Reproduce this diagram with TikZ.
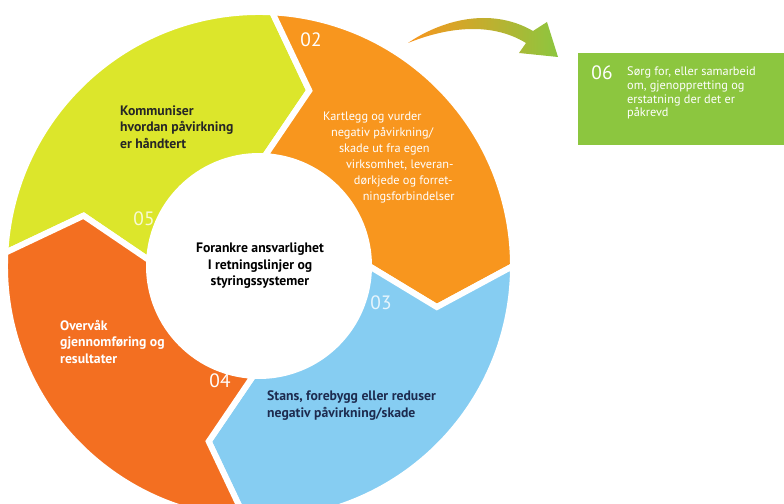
\documentclass[tikz,border=0pt]{standalone}
\usepackage{fontspec}
\setmainfont{PT Sans}
\usetikzlibrary{calc}
\definecolor{ringyellow}{HTML}{DCE62B}
\definecolor{ringorange}{HTML}{F8961E}
\definecolor{ringred}{HTML}{F36F21}
\definecolor{ringblue}{HTML}{86CDF2}
\definecolor{boxgreen}{HTML}{8CC63F}
\definecolor{darknavy}{HTML}{1D2B4F}
\def\outR{5.08cm}
\def\inR{2.2cm}
\def\midR{3.65cm}
\def\ringpart[#1](#2:#3){\draw[#1] (#2:\outR) arc[start angle=#2, end angle=#3, radius=\outR] -- ({#3-13}:\midR) -- (#3:\inR) arc[start angle=#3, end angle=#2, radius=\inR] -- ({#2-13}:\midR) -- cycle;}

\begin{document}
\begin{tikzpicture}[
    steplabel/.style={text=white, font=\fontsize{11}{13}\selectfont},
    boldtext/.style={font=\fontsize{7.8}{9.4}\selectfont\bfseries, align=left, anchor=west},
    thintext/.style={text=white, font=\fontsize{7}{9}\selectfont, align=left, anchor=west}]
		%%%%% START %%%%%
		\useasboundingbox (0, 0) rectangle (15.68, 10.08);
		\clip (0, 0) rectangle (15.68, 10.08);
		
		\begin{scope}[shift={(5.18, 4.76)}]
			\ringpart[fill=ringyellow, draw=white, line width=3.4pt](177:87);
			\ringpart[fill=ringorange, draw=white, line width=3.4pt](87:0);
			\ringpart[fill=ringblue, draw=white, line width=3.4pt](0:-93);
			\ringpart[fill=ringred, draw=white, line width=3.4pt](-93:-183);
		\end{scope}
		
		\node[boldtext, text=black!85] (communicate) at (2.28, 7.54) {Kommuniser\\hvordan påvirkning\\er håndtert};
		\node[thintext] (assess) at (6.34, 6.93) {Kartlegg og vurder\\
			\hspace*{4.5pt}negativ påvirkning/\\
			\hspace*{9pt}skade ut fra egen\\
			\hspace*{13pt}virksomhet, leveran-\\
			\hspace*{17.5pt}dørkjede og forret-\\
			\hspace*{22.5pt}ningsforbindelser};
		\node[boldtext, align=center, anchor=center, text=black] (embed) at (5.2, 4.76) {Forankre ansvarlighet\\I retningslinjer og\\styringssystemer};
		\node[boldtext, text=white] (monitor) at (1.08, 3.24) {Overvåk\\gjennomføring og\\resultater};
		\node[boldtext, text=darknavy] (stop) at (5.22, 1.97) {Stans, forebygg eller reduser\\negativ påvirkning/skade};
		
		\node[steplabel] (lbl02) at (6.22, 9.28) {02};
		\node[steplabel, opacity=0.8] (lbl03) at (7.62, 4.02) {03};
		\node[steplabel] (lbl04) at (4.4, 2.46) {04};
		\node[steplabel, opacity=0.8] (lbl05) at (2.88, 5.7) {05};
		
		\fill[boxgreen] (11.56, 7.18) rectangle (15.8, 9.02);
		\node[steplabel] (lbl06) at (12.04, 8.62) {06};
		\node[thintext, font=\fontsize{7}{7.9}\selectfont] (repair) at (12.42, 8.22) {Sørg for, eller samarbeid\\om, gjenoppretting og\\erstatning der det er\\påkrevd};
		
		\coordinate (swooshtail) at (8.16, 9.22);
		\coordinate (swooshtip) at (11.16, 8.94);
		\shade[left color=ringorange, middle color=ringyellow!80!orange, right color=boxgreen]
			(swooshtail) .. controls (8.8, 9.66) and (9.8, 9.96) .. (10.66, 9.46)
			-- (10.94, 9.64) -- (swooshtip) -- (10.38, 9.02) -- (10.52, 9.22)
			.. controls (9.8, 9.66) and (8.9, 9.52) .. (swooshtail) -- cycle;
		%%%%% END %%%%%
\end{tikzpicture}
\end{document}
